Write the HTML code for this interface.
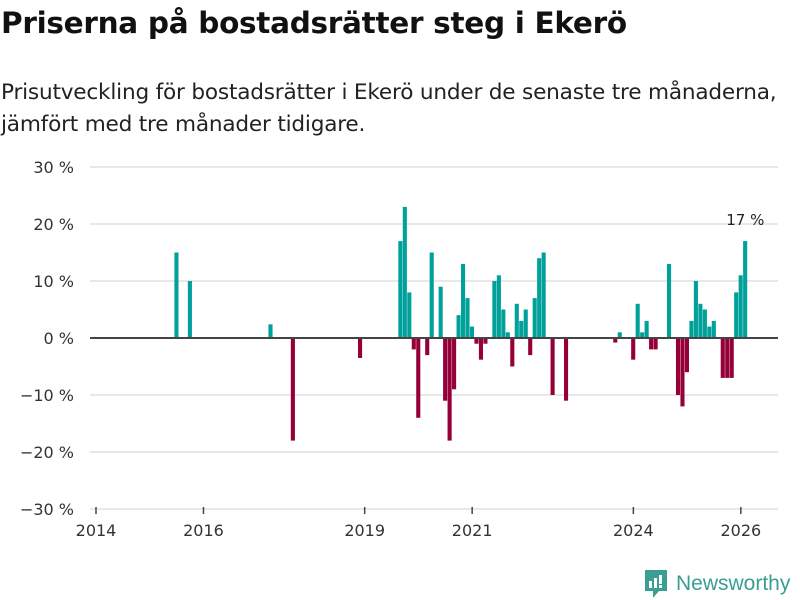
<!DOCTYPE html>
<html><head><meta charset="utf-8"><style>
body{margin:0;background:#fff;font-family:"DejaVu Sans","Liberation Sans",sans-serif;}
#wrap{position:relative;width:800px;height:600px;overflow:hidden;}
h1{position:absolute;left:1px;top:6px;margin:0;font-size:29.5px;font-weight:bold;color:#111;letter-spacing:-0.3px;white-space:nowrap;}
p.sub{position:absolute;left:1px;top:77px;margin:0;font-size:21.6px;line-height:32px;color:#222;white-space:nowrap;letter-spacing:-0.2px;}
</style></head><body>
<div id="wrap">
<h1>Priserna på bostadsrätter steg i Ekerö</h1>
<p class="sub">Prisutveckling för bostadsrätter i Ekerö under de senaste tre månaderna,<br>jämfört med tre månader tidigare.</p>
<svg id="chart" width="800" height="600" style="position:absolute;left:0;top:0"></svg>
<div style="position:absolute;left:645px;top:570px;display:flex;align-items:center;">
<svg width="22" height="28" viewBox="0 0 22 28"><path d="M0 0H22V21H14L8 28V21H0Z" fill="#3a9e93"/><rect x="4" y="11" width="3" height="7" fill="#fff"/><rect x="9" y="8" width="3" height="10" fill="#fff"/><rect x="14" y="5" width="3" height="9" fill="#fff"/><rect x="14" y="15" width="3" height="3" fill="#fff"/></svg>
<span style="margin-left:9px;font-size:21px;color:#3a9e93;font-family:'Liberation Sans',sans-serif;">Newsworthy</span>
</div>
</div>
<script>
const dates=["2015-07","2015-10","2017-04","2017-09","2018-12",
"2019-09","2019-10","2019-11","2019-12","2020-01","2020-03","2020-04","2020-06","2020-07","2020-08","2020-09","2020-10","2020-11","2020-12","2021-01","2021-02","2021-03","2021-04","2021-06","2021-07","2021-08","2021-09","2021-10","2021-11","2021-12","2022-01","2022-02","2022-03","2022-04","2022-05","2022-07","2022-10",
"2023-09","2023-10","2024-01","2024-02","2024-03","2024-04","2024-05","2024-06","2024-09","2024-11","2024-12","2025-01","2025-02","2025-03","2025-04","2025-05","2025-06","2025-07","2025-09","2025-10","2025-11","2025-12","2026-01","2026-02"];
const values=[15,10,2.4,-18,-3.5,
17,23,8,-2,-14,-3,15,9,-11,-18,-9,4,13,7,2,-1,-3.8,-1,10,11,5,1,-5,6,3,5,-3,7,14,15,-10,-11,
-0.8,1,-3.8,6,1,3,-2,-2,13,-10,-12,-6,3,10,6,5,2,3,-7,-7,-7,8,11,17];
const yTicks=[30,20,10,0,-10,-20,-30];
const xTickYears=[2014,2016,2019,2021,2024,2026];
const lastLabel="17 %";

const svg=document.getElementById('chart');const NS="http://www.w3.org/2000/svg";
function mk(t,a){const e=document.createElementNS(NS,t);for(const k in a)e.setAttribute(k,a[k]);svg.appendChild(e);return e;}
const y=v=>338-v*5.7;
const xm=m=>96+m*4.478;
const monthIdx=s=>{const [Y,M]=s.split('-').map(Number);return (Y-2014)*12+(M-1);};
yTicks.forEach(t=>{
 if(t!==0){const g=mk('line',{x1:90,x2:778,y1:y(t),y2:y(t),stroke:'#e0e0e0','stroke-width':1.5});
 
 }
 const l=mk('text',{x:74,y:y(t)+6,'text-anchor':'end','font-size':16,fill:'#333','font-family':'DejaVu Sans, Liberation Sans, sans-serif'});
 l.textContent=(t<0?'\u2212'+(-t):t)+' %';
 
 
});
values.forEach((v,i)=>{
 const cx=xm(monthIdx(dates[i]));
 const r=mk('rect',{x:cx-2.2,y:Math.min(y(v),y(0)),width:4.1,height:Math.abs(y(v)-y(0)),fill:v>=0?'#00a19a':'#960039'});
 
 
});
const z=mk('line',{x1:90,x2:778,y1:y(0),y2:y(0),stroke:'#444','stroke-width':2});


xTickYears.forEach(yr=>{
 const x=xm((yr-2014)*12);
 const t=mk('line',{x1:x,x2:x,y1:507,y2:514,stroke:'#444','stroke-width':1.5});
 
 
 const l=mk('text',{x:x,y:536,'text-anchor':'middle','font-size':16,fill:'#333','font-family':'DejaVu Sans, Liberation Sans, sans-serif'});
 l.textContent=yr;
 
 
});
const li=values.length-1;
const lbl=mk('text',{x:xm(monthIdx(dates[li])),y:y(values[li])-16,'text-anchor':'middle','font-size':15,fill:'#222','font-family':'DejaVu Sans, Liberation Sans, sans-serif'});
lbl.textContent=lastLabel;


</script>
</body></html>
